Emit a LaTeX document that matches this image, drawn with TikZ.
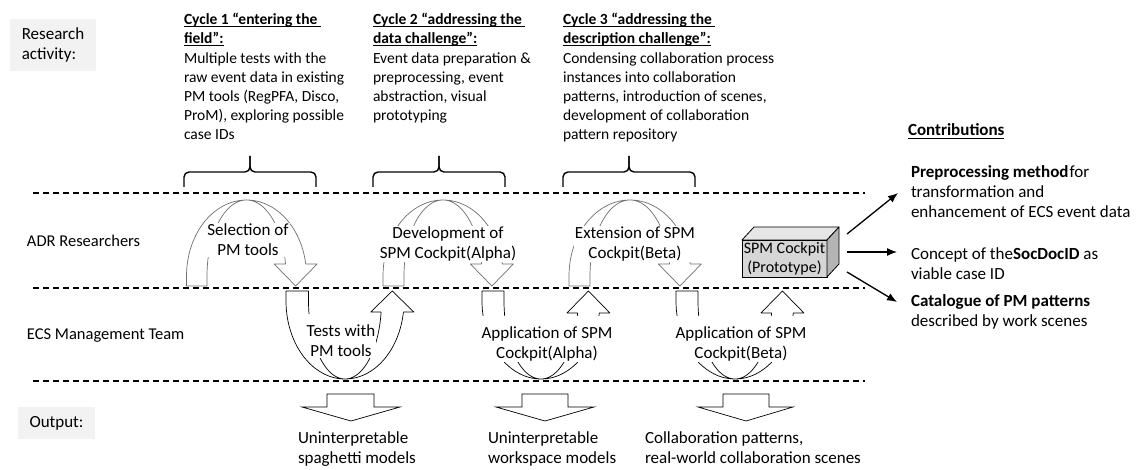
\documentclass[tikz,border=0pt]{standalone}
\usepackage{fontspec}
\setmainfont{Carlito}
\usetikzlibrary{arrows.meta}

\definecolor{boxgray}{HTML}{F2F2F2}
\definecolor{archline}{HTML}{707070}
\definecolor{cubefront}{HTML}{D6D6D6}
\definecolor{cubetop}{HTML}{E6E6E6}
\definecolor{cubeside}{HTML}{B4B4B4}

% underline that sits close below the text
\newcommand{\hdul}[1]{\sbox0{#1}\rlap{\rule[-2.8pt]{\wd0}{0.9pt}}\usebox0}

% curved block arrow: #1 colour, #2 centre x, #3 tail/tip y, #4 ellipse centre y,
% #5 outer radius, #6 inner radius, #7 signed vertical radius, #8 shoulder y
\newcommand{\archarrow}[8]{%
  \pgfmathsetmacro{\arcang}{asin(abs(#4-#8)/abs(#7))}%
  \pgfmathsetmacro{\sho}{#2+#5*cos(\arcang)}%
  \pgfmathsetmacro{\shi}{#2+#6*cos(\arcang)}%
  \pgfmathsetmacro{\hdc}{(\sho+\shi)/2}%
  \draw[#1, line width=0.7pt, line join=round]
    (#2-#5,#3) -- plot[domain=180:\arcang, samples=80] ({#2+#5*cos(\x)},{#4-#7*sin(\x)})
    -- (\hdc+21.5,#8) -- (\hdc,#3) -- (\hdc-21.5,#8) -- (\shi,#8)
    -- plot[domain=\arcang:180, samples=80] ({#2+#6*cos(\x)},{#4-#7*sin(\x)})
    -- (#2-#6,#3) -- cycle;
}

% curly brace opening downwards, tip at #2
\newcommand{\cyclebrace}[3]{%
  \draw[bracepath] (#1,187) -- (#1,172) -- (#2,172) -- (#2,156);
  \draw[bracepath] (#3,187) -- (#3,172) -- (#2,172) -- (#2,156);
}

\begin{document}
\begin{tikzpicture}[x=1pt, y=-1pt,
  every node/.style={inner sep=0pt, outer sep=0pt, font=\fontsize{17}{20}\selectfont},
  lane/.style={line width=1.3pt, dash pattern=on 6pt off 4pt},
  lanelabel/.style={anchor=west, font=\fontsize{16.5}{20}\selectfont},
  bracepath/.style={line width=1.4pt, rounded corners=5pt},
  greybox/.style={fill=boxgray, align=left},
  blocktxt/.style={anchor=north west, align=left},
  cycletxt/.style={anchor=north west, align=left, font=\fontsize{15.5}{19}\selectfont},
  archlabel/.style={fill=white, align=center, inner sep=1pt},
  contribarrow/.style={line width=1.3pt, -{Latex[length=10pt,width=8pt]}},
  outarrow/.style={draw=black, fill=white, line width=0.7pt},
]
\useasboundingbox (0,0) rectangle (1137,470);
\fill[white] (0,0) rectangle (1137,470);

% row captions
\node[greybox, minimum width=86, minimum height=52] (resbox) at (53,45) {Research\\activity:};
\node[greybox, minimum width=77, minimum height=32] (outbox) at (56.5,423) {Output:};
\node[lanelabel] (adr) at (27,241) {ADR Researchers};
\node[lanelabel] (ecs) at (27,336) {ECS Management Team};

% research cycles
\node[cycletxt] (cyc1) at (184,13) {\textbf{\hdul{Cycle 1 “entering the\ }}\\
  \textbf{\hdul{field”:}}\\[1.5pt]
  Multiple tests with the\\ raw event data in existing\\ PM tools (RegPFA, Disco,\\
  ProM), exploring possible\\ case IDs};
\node[cycletxt] (cyc2) at (373,13) {\textbf{\hdul{Cycle 2 “addressing the\ }}\\
  \textbf{\hdul{data challenge”:}}\\[1.5pt]
  Event data preparation \&\\ preprocessing, event\\ abstraction, visual\\ prototyping};
\node[cycletxt] (cyc3) at (563,13) {\textbf{\hdul{Cycle 3 “addressing the\ }}\\
  \textbf{\hdul{description challenge”:}}\\[1.5pt]
  Condensing collaboration process\\ instances into collaboration\\
  patterns, introduction of scenes,\\ development of collaboration\\ pattern repository};

\cyclebrace{184}{250}{316}
\cyclebrace{373}{439}{505}
\cyclebrace{563}{629}{695}

% swimlane separators
\draw[lane] (33,193) -- (865,193);
\draw[lane] (33,288) -- (865,288);
\draw[lane] (33,381) -- (865,381);

% curved arrows, researchers lane
\archarrow{archline}{246.5}{286}{276}{60}{39.5}{76}{264}
\archarrow{archline}{443}{286}{276}{60}{39}{76}{264}
\archarrow{archline}{630}{286}{276}{61}{40}{76}{264}
% curved arrows, management team lane
\archarrow{black}{345}{291}{301}{59}{36.5}{-78}{312}
\archarrow{black}{541}{291}{301}{59}{37}{-78}{313}
\archarrow{black}{735}{291}{301}{59}{37}{-78}{313}

\node[archlabel] (sel) at (248,240) {Selection of\\PM tools};
\node[archlabel] (dev) at (448,244) {Development of\\SPM Cockpit(Alpha)};
\node[archlabel] (ext) at (635,244) {Extension of SPM\\Cockpit(Beta)};
\node[archlabel] (tests) at (341,336) {\rule{0pt}{21pt}Tests with\\PM tools};
\node[archlabel] (app1) at (547,339) {\rule{0pt}{21pt}Application of SPM\\Cockpit(Alpha)};
\node[archlabel] (app2) at (741,339) {\rule{0pt}{21pt}Application of SPM\\Cockpit(Beta)};

% output block arrows
\draw[outarrow] (327,394) -- (374,394) -- (374,407) -- (400,407) -- (351,421) -- (302,407) -- (327,407) -- cycle;
\draw[outarrow] (522,394) -- (568,394) -- (568,407) -- (594,407) -- (545,421) -- (496,407) -- (522,407) -- cycle;
\draw[outarrow] (723,394) -- (769,394) -- (769,407) -- (793,407) -- (746,421) -- (698,407) -- (723,407) -- cycle;

\node[blocktxt] (out1) at (298,432) {Uninterpretable\\spaghetti models};
\node[blocktxt] (out2) at (488,432) {Uninterpretable\\workspace models};
\node[blocktxt] (out3) at (645,432) {Collaboration patterns,\\real-world collaboration scenes};

% prototype box
\node[draw, fill=cubefront, line width=0.8pt, minimum width=85, minimum height=37, align=center,
  font=\fontsize{16}{19}\selectfont] (cube) at (784.5,258.5) {SPM Cockpit\\(Prototype)};
\draw[fill=cubetop, line width=0.8pt, line join=round] (cube.north west) -- ++(12,-13) -- ++(85,0) -- (cube.north east) -- cycle;
\draw[fill=cubeside, line width=0.8pt, line join=round] (cube.north east) -- ++(12,-13) -- ++(0,37) -- (cube.south east) -- cycle;

% contributions
\node[blocktxt] (contrib) at (908,124) {\textbf{\hdul{Contributions}}};
\node[blocktxt] (c1) at (911,166) {\textbf{Preprocessing method}\kern1pt for\\transformation and\\enhancement of ECS event data};
\node[blocktxt] (c2) at (911,248) {Concept of the\textbf{SocDocID} as\\viable case ID};
\node[blocktxt] (c3) at (911,295) {\textbf{Catalogue of PM patterns}\\described by work scenes};

\coordinate (a1s) at (847,234);
\coordinate (a1e) at (898,193);
\coordinate (a2s) at (847,252);
\coordinate (a2e) at (897,252);
\coordinate (a3s) at (847,272);
\coordinate (a3e) at (897,302);
\draw[contribarrow] (a1s) -- (a1e);
\draw[contribarrow] (a2s) -- (a2e);
\draw[contribarrow] (a3s) -- (a3e);
\end{tikzpicture}
\end{document}
